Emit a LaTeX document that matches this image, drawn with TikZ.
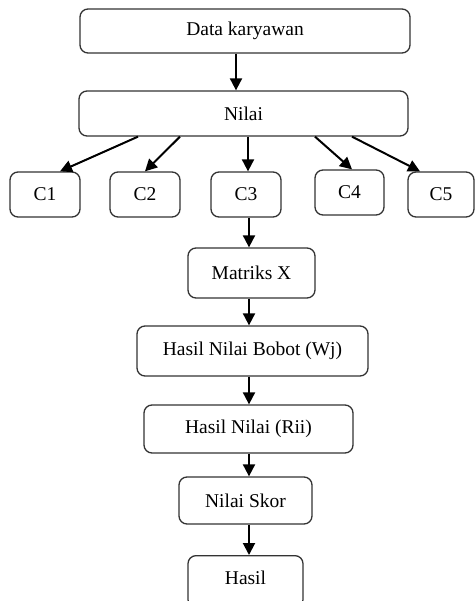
\documentclass[tikz,border=0pt]{standalone}
\usepackage{fontspec}
\setmainfont{Liberation Serif}
\usetikzlibrary{arrows.meta}
\begin{document}
\begin{tikzpicture}[x=1pt,y=-1pt,
  box/.style={draw=black!80, line width=1.3pt, rounded corners=8pt,
    inner sep=0pt, font=\fontsize{19.5}{23}\selectfont},
  arr/.style={line width=2pt, -{Triangle[length=12pt,width=12pt]}}]
  \useasboundingbox (0,0) rectangle (475,601);
  \begin{scope}
  \clip (0,0) rectangle (475,601);
  % main column
  \node[box, minimum width=330pt, minimum height=44pt] (data) at (245,31) {Data karyawan};
  \node[box, minimum width=329pt, minimum height=45pt] (nilai) at (243.5,113.5) {Nilai};
  % criteria
  \node[box, minimum width=70pt, minimum height=45pt] (c1) at (45,194.5) {C1};
  \node[box, minimum width=70pt, minimum height=45pt] (c2) at (145,194.5) {C2};
  \node[box, minimum width=70pt, minimum height=45pt] (c3) at (246,194.5) {C3};
  \node[box, minimum width=69pt, minimum height=45pt] (c4) at (349.5,192.5) {C4};
  \node[box, minimum width=66pt, minimum height=45pt] (c5) at (441,194.5) {C5};
  % processing steps
  \node[box, minimum width=127pt, minimum height=50pt] (matriks) at (251.5,273) {Matriks X};
  \node[box, minimum width=231pt, minimum height=50pt] (bobot) at (252.5,351) {Hasil Nilai Bobot (Wj)};
  \node[box, minimum width=209pt, minimum height=48pt] (rii) at (248.5,429) {Hasil Nilai (Rii)};
  \node[box, minimum width=133pt, minimum height=47pt] (skor) at (245.5,500.5) {Nilai Skor};
  \node[box, minimum width=115pt, minimum height=52pt, anchor=north] (hasil) at (245.5,555) {};
  \node[font=\fontsize{19.5}{23}\selectfont] (hasiltxt) at (245.5,578) {Hasil};
  \end{scope}

  \coordinate (top) at (236,0);
  \coordinate (spine) at (249,0);
  \draw[arr] (data.south -| top) -- (nilai.north -| top);
  \draw[arr] ([xshift=-105.5pt]nilai.south) -- ([xshift=15pt]c1.north);
  \draw[arr] ([xshift=-63.5pt]nilai.south) -- ([xshift=0pt]c2.north);
  \draw[arr] ([xshift=4.5pt]nilai.south) -- ([xshift=2pt]c3.north);
  \draw[arr] ([xshift=71.5pt]nilai.south) -- ([xshift=2.5pt]c4.north);
  \draw[arr] ([xshift=108.5pt]nilai.south) -- ([xshift=-21pt]c5.north);
  \draw[arr] (c3.south -| spine) -- (matriks.north -| spine);
  \draw[arr] (matriks.south -| spine) -- (bobot.north -| spine);
  \draw[arr] (bobot.south -| spine) -- (rii.north -| spine);
  \draw[arr] (rii.south -| spine) -- (skor.north -| spine);
  \draw[arr] (skor.south -| spine) -- (hasil.north -| spine);
\end{tikzpicture}
\end{document}
